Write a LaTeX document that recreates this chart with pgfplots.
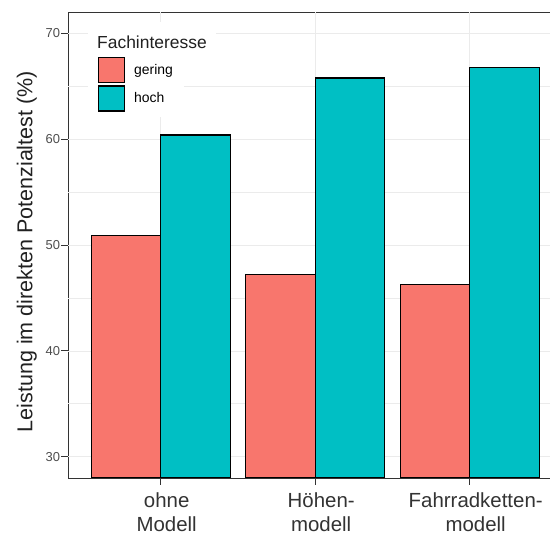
\documentclass[border=0pt]{standalone}
\usepackage{pgfplots}
\pgfplotsset{compat=1.18}
\usepackage{fontspec}
\setmainfont{Liberation Sans}
\definecolor{cgering}{HTML}{F8766D}
\definecolor{choch}{HTML}{00BFC4}
\definecolor{gridc}{HTML}{EBEBEB}
\definecolor{grey20}{HTML}{333333}
\definecolor{grey30}{HTML}{4D4D4D}
\pgfplotsset{boxlegend/.style={legend image code/.code={\draw[##1] (0bp,-12.5bp) rectangle (26bp,12.5bp); \path (33.5bp,0bp);}}}
\begin{document}
\begin{tikzpicture}[trim left=0bp, trim right=550bp]
\path (0,0) rectangle (550bp,537bp);
\begin{axis}[
  at={(68bp,59bp)}, anchor=south west,
  scale only axis, width=494.4bp, height=465.7bp,
  xmin=0.4, xmax=3.6, ymin=28, ymax=72,
  xtick={1,2,3},
  xticklabels={{ohne\\Modell},{Höhen-\\modell},{Fahrradketten-\\modell}},
  ytick={30,40,50,60,70},
  grid=none,
  extra y ticks={30,35,40,45,50,55,60,65,70},
  extra y tick labels={{},{},{},{},{},{},{},{},{}},
  extra x ticks={1,2,3},
  extra x tick labels={{},{},{}},
  extra tick style={grid=major, major tick length=0pt, major grid style={draw=gridc, line width=0.9bp}},
  axis line style={grey20, line width=1bp},
  tick pos=left,
  major tick style={draw=grey20, line width=1bp},
  major tick length=6.5bp,
  tick align=outside,
  /pgf/number format/assume math mode=true,
  yticklabel style={font=\fontsize{13}{15}\selectfont, text=grey30, xshift=2bp},
  xticklabel style={font=\fontsize{20.5}{23.5}\selectfont, text=grey20, align=center, xshift=6bp, yshift=-5bp},
  ylabel={Leistung im direkten Potenzialtest (\%)},
  every axis y label/.style={at={(axis description cs:-0.0722,0.486)}, rotate=90, anchor=base, font=\fontsize{21.6}{24}\selectfont, text=black!87},
  legend style={at={(axis description cs:0.0405,0.9155)}, anchor=north west, draw=none, fill=white,
    inner xsep=9.3bp, inner ysep=5.3bp,
    font=\fontsize{14}{16}\selectfont, cells={anchor=west}, row sep=2.1bp},
]
\addplot[ybar, bar width=0.45, bar shift=-0.225, fill=cgering, draw=black, line width=1.2bp, boxlegend]
  coordinates {(1,50.9) (2,47.25) (3,46.28)};
\addlegendentry{gering}
\addplot[ybar, bar width=0.45, bar shift=0.225, fill=choch, draw=black, line width=1.2bp, boxlegend]
  coordinates {(1,60.4) (2,65.8) (3,66.75)};
\addlegendentry{hoch}
\node[anchor=base west, fill=white, inner xsep=9bp, inner ysep=5bp, text height=21bp, text depth=0pt,
  font=\fontsize{17.5}{20}\selectfont, text=black!87]
  at (axis description cs:0.0405,0.9233) {Fachinteresse};
\end{axis}
\end{tikzpicture}
\end{document}
